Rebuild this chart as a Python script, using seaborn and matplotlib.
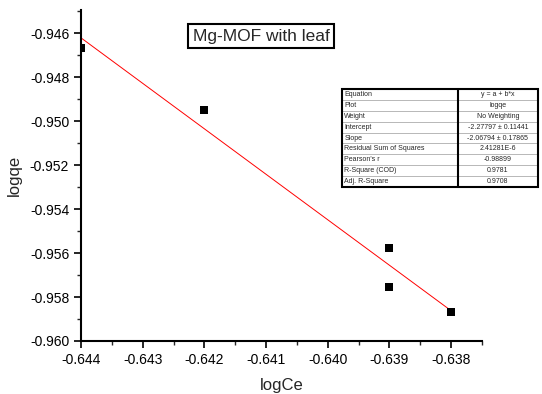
import numpy as np
import pandas as pd
import matplotlib
matplotlib.use("Agg")
import matplotlib.pyplot as plt
import seaborn as sns
from matplotlib.patches import Rectangle

log_ce = [-0.644, -0.642, -0.639, -0.639, -0.638]
log_qe = [-0.94668, -0.9495, -0.95577, -0.95755, -0.95868]
intercept = -2.27797
slope = -2.06794
fit_x = [-0.644, -0.638]

table_keys = ["Equation", "Plot", "Weight", "Intercept", "Slope",
              "Residual Sum of Squares", "Pearson's r", "R-Square (COD)", "Adj. R-Square"]
table_vals = ["y = a + b*x", "logqe", "No Weighting", "-2.27797 \u00b1 0.11441",
              "-2.06794 \u00b1 0.17865", "2.41281E-6", "-0.98899", "0.9781", "0.9708"]

sns.set_style("ticks")
plt.rcParams['font.family'] = ['Liberation Sans', 'DejaVu Sans']

fig = plt.figure(figsize=(5.42, 3.94), dpi=100)
ax = fig.add_axes([81/542, 1-341/394, 401/542, 331/394])

df = pd.DataFrame({"logCe": log_ce, "logqe": log_qe})
fit_df = pd.DataFrame({"x": fit_x, "y": [intercept + slope*v for v in fit_x]})
sns.lineplot(data=fit_df, x="x", y="y", ax=ax, color="#ff0000", linewidth=0.7, zorder=2)
sns.scatterplot(data=df, x="logCe", y="logqe", ax=ax, marker="s", s=28, color="black",
                edgecolor="black", linewidth=0, zorder=3)

ax.set_xlim(-0.644, -0.6375)
ax.set_ylim(-0.960, -0.94495)
ax.set_xticks([-0.644, -0.643, -0.642, -0.641, -0.640, -0.639, -0.638])
ax.set_xticks(np.arange(-0.6435, -0.6374, 0.001), minor=True)
ax.set_yticks([-0.960, -0.958, -0.956, -0.954, -0.952, -0.950, -0.948, -0.946])
ax.set_yticks(np.arange(-0.959, -0.9449, 0.002), minor=True)
ax.xaxis.set_major_formatter(matplotlib.ticker.FormatStrFormatter('%.3f'))
ax.yaxis.set_major_formatter(matplotlib.ticker.FormatStrFormatter('%.3f'))
sns.despine(ax=ax)
for s in ["left", "bottom"]:
    ax.spines[s].set_linewidth(1.5)
    ax.spines[s].set_color("black")
    ax.spines[s].set_zorder(5)
ax.tick_params(which="major", length=5, width=1.2, labelsize=10, direction="out", colors="black")
ax.tick_params(which="minor", length=3, width=1.0, direction="out")
ax.set_xlabel("logCe", fontsize=12, labelpad=8)
ax.set_ylabel("logqe", fontsize=12, labelpad=6)

fig.text(261/542, 1-36/394, "Mg-MOF with leaf", fontsize=12.5, ha="center", va="center",
         bbox=dict(boxstyle="square,pad=0.25", facecolor="white", edgecolor="black", linewidth=1.5))

tax = fig.add_axes([342/542, 1-187/394, 196/542, 98/394])
tax.axis("off")
cells = [[k, v] for k, v in zip(table_keys, table_vals)]
tbl = tax.table(cellText=cells, bbox=[0, 0, 1, 1], colWidths=[0.59, 0.41],
                cellLoc="left", edges="closed")
tbl.auto_set_font_size(False)
for (r, c), cell in tbl.get_celld().items():
    cell.set_linewidth(0.4)
    cell.set_edgecolor("#999999")
    cell.set_text_props(fontsize=5)
    cell.PAD = 0.02
    if c == 1:
        cell._loc = "center"
        cell.get_text().set_ha("center")
tax.add_patch(Rectangle((0, 0), 1, 1, fill=False, edgecolor="black", linewidth=1.5,
                        transform=tax.transAxes, clip_on=False))
tax.plot([0.59, 0.59], [0, 1], color="black", linewidth=1.5, transform=tax.transAxes, clip_on=False)

fig.savefig("out.png", dpi=100)
